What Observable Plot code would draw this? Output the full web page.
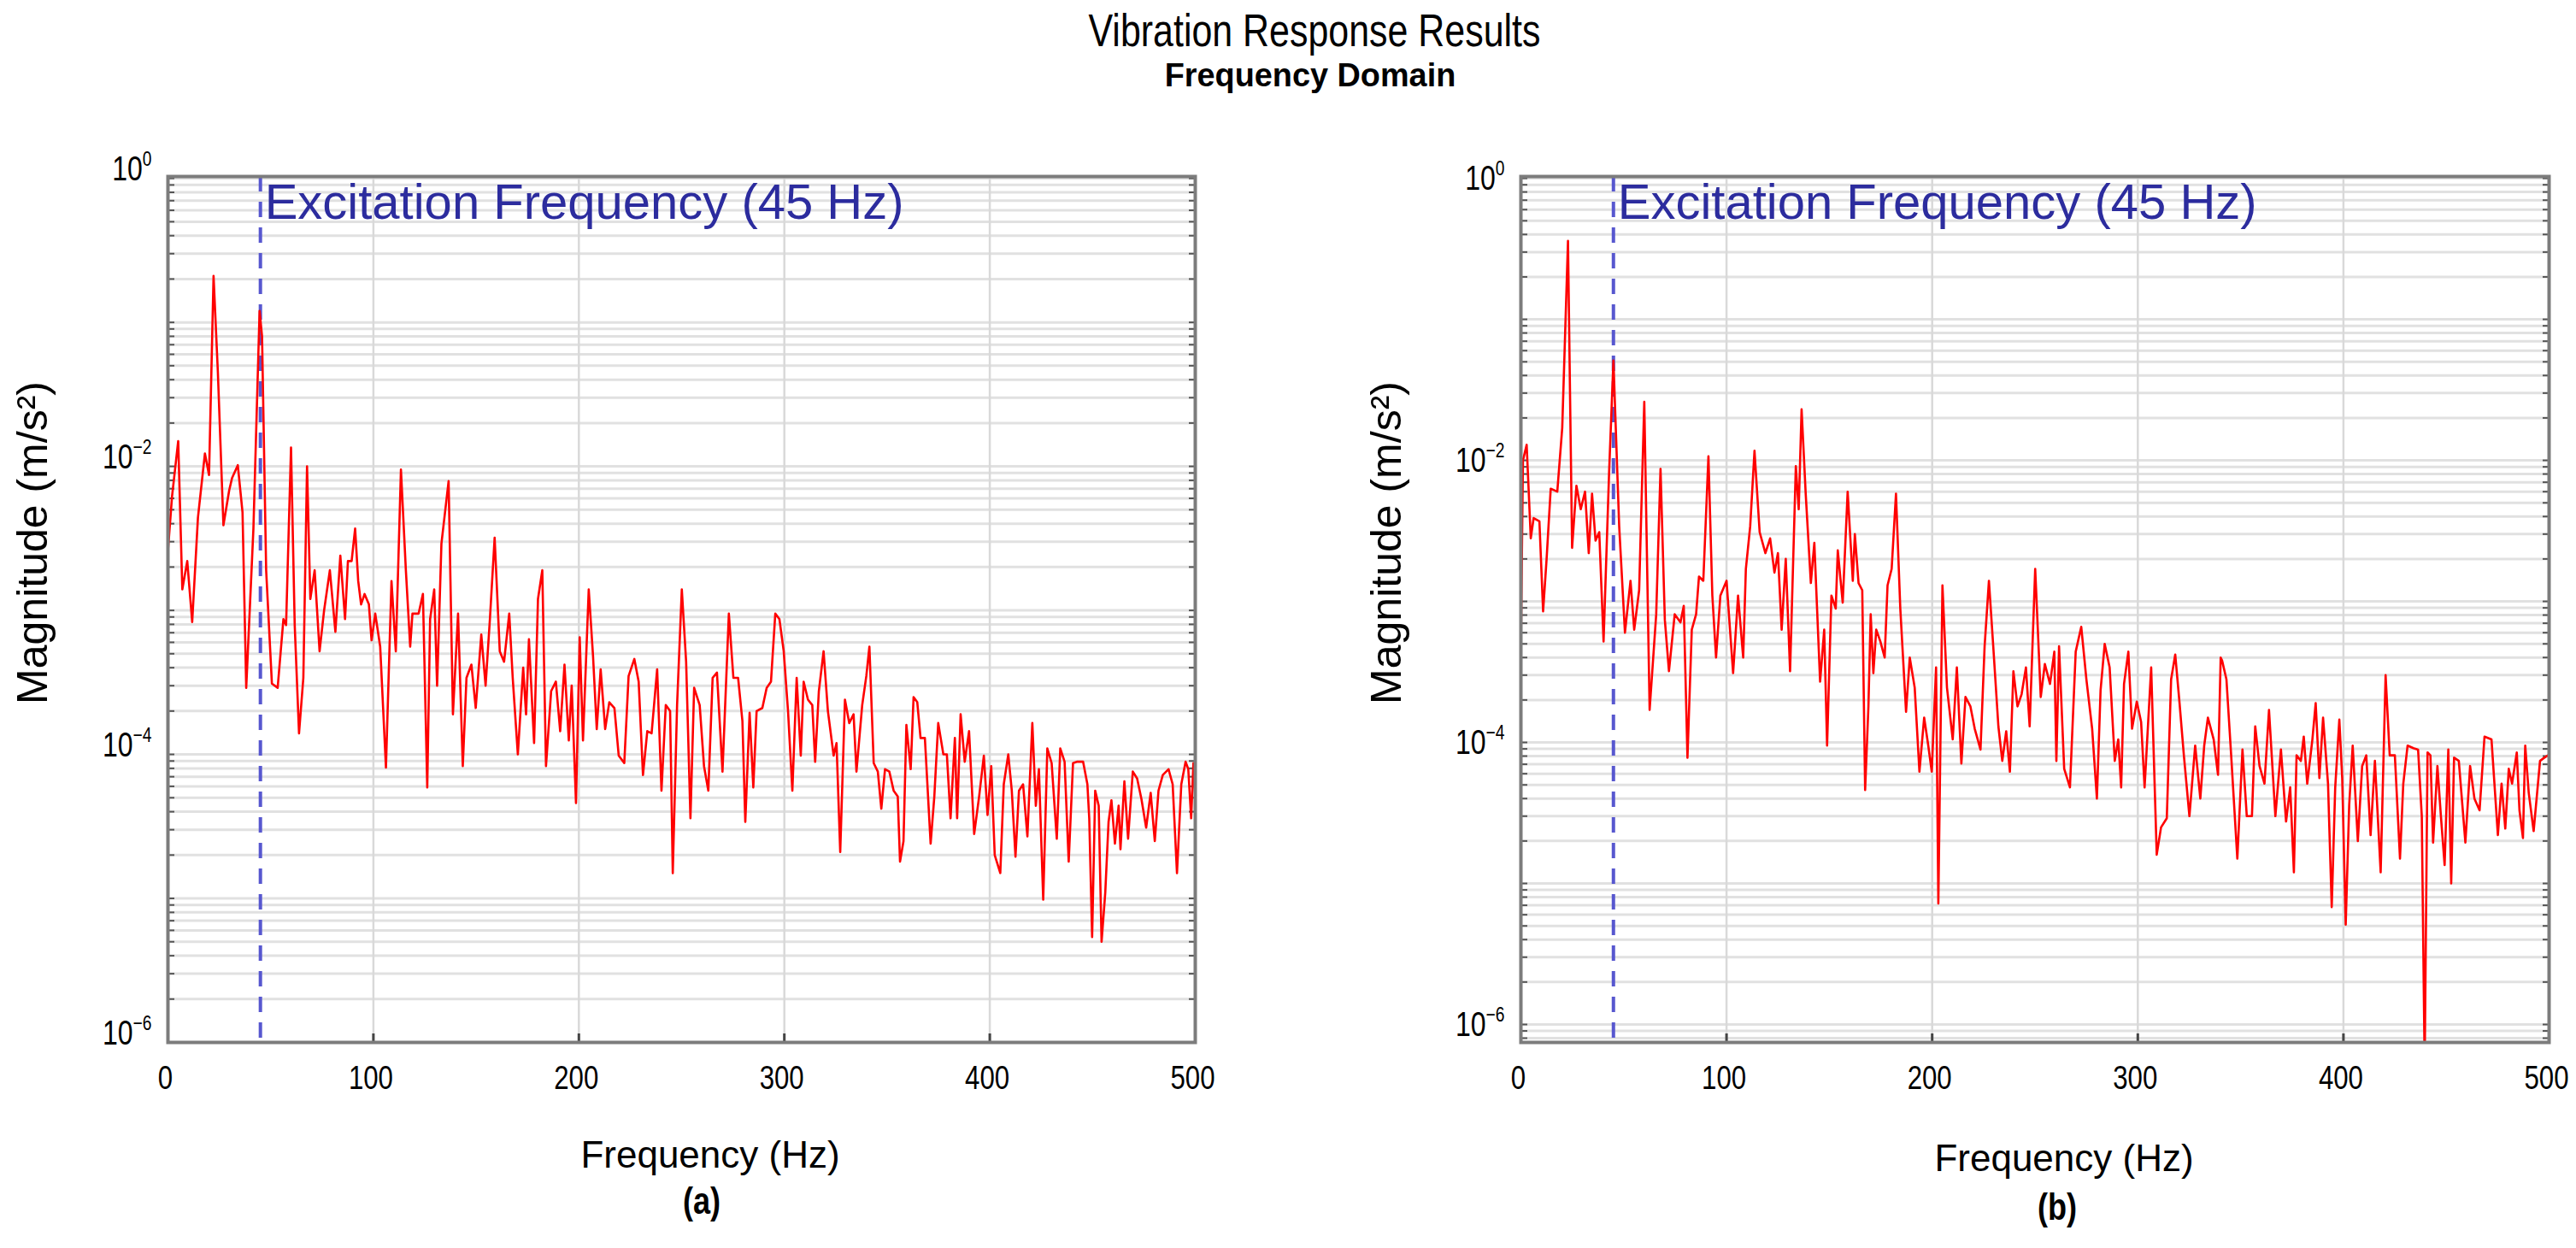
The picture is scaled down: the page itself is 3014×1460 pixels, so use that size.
<!DOCTYPE html>
<html>
<head>
<meta charset="utf-8">
<script src="https://cdn.jsdelivr.net/npm/d3@7"></script>
<script src="https://cdn.jsdelivr.net/npm/@observablehq/plot@0.6"></script>
<style>
  html, body { margin: 0; padding: 0; background: #fff; }
  #page { position: relative; width: 3014px; height: 1460px; overflow: hidden; background: #fff; }
  .abs { position: absolute; white-space: nowrap; color: #000; font-family: "Liberation Sans", Arial, sans-serif; }
  .plot { position: absolute; }
</style>
</head>
<body>
<div id="page"></div>
<script>
// ---------------- data ----------------
const titleText = "Vibration Response Results";
const subtitleText = "Frequency Domain";
const xLabelText = "Frequency (Hz)";
const yLabelText = "Magnitude (m/s²)";
const panelLabels = ["(a)", "(b)"];
const annotationText = "Excitation Frequency (45 Hz)";
const excitationFreq = 45;
const xTickValues = [0, 100, 200, 300, 400, 500];
const xGridValues = [100, 200, 300, 400];
const yTickValues = [1, 1e-2, 1e-4, 1e-6];
const yTickLabels = ["10^0", "10^−2", "10^−4", "10^−6"];

// panel (a): [frequency Hz, magnitude m/s²]
const spectrumA = [[0,2.6e-3],[2,6.2e-3],[5,1.5e-2],[7,1.4e-3],[9.4,2.2e-3],[11.8,8.3e-4],[14.6,4.4e-3],[18,1.23e-2],[20,8.7e-3],[22.2,0.21],[24.3,4.5e-2],[27,3.9e-3],[29.8,6.8e-3],[31.2,8.3e-3],[34,1.02e-2],[36.3,4.8e-3],[38.1,2.9e-4],[41.6,3.7e-3],[44.6,0.12],[45.8,8e-2],[47.8,1.9e-3],[50.6,3.1e-4],[53.4,2.9e-4],[56.2,8.7e-4],[57.5,7.9e-4],[59.9,1.35e-2],[61.7,7.9e-4],[63.8,1.4e-4],[65.9,3.4e-4],[67.7,1.0e-2],[69.3,1.2e-3],[71.4,1.9e-3],[73.8,5.2e-4],[76,1.0e-3],[78.8,1.9e-3],[81.5,7.1e-4],[83.9,2.4e-3],[86.2,8.7e-4],[87.6,2.2e-3],[89.4,2.2e-3],[91.1,3.7e-3],[92.6,1.6e-3],[94,1.1e-3],[95.7,1.3e-3],[97.8,1.1e-3],[99.1,6.2e-4],[100.9,9.5e-4],[103.3,5.6e-4],[106.1,8.1e-5],[108.8,1.6e-3],[110.9,5.2e-4],[113.4,9.5e-3],[115.8,1.9e-3],[117.9,5.6e-4],[119,9.5e-4],[122,9.5e-4],[124.1,1.3e-3],[126.2,5.9e-5],[127.6,8.7e-4],[129.6,1.4e-3],[131,3.0e-4],[133.1,2.9e-3],[136.6,7.9e-3],[138.7,1.9e-4],[141.2,9.5e-4],[143.5,8.3e-5],[145.3,3.4e-4],[147.7,4.2e-4],[149.8,2.1e-4],[152.5,6.8e-4],[154.6,3.0e-4],[156.7,8.7e-4],[159,3.2e-3],[161.5,5.2e-4],[163.6,4.4e-4],[166.1,9.5e-4],[167.8,3.4e-4],[170.3,1.0e-4],[172.9,4.0e-4],[174.3,1.9e-4],[175.7,6.3e-4],[178.2,1.2e-4],[180.1,1.2e-3],[182.2,1.9e-3],[184,8.3e-5],[186.5,2.75e-4],[188.8,3.2e-4],[190.9,1.45e-4],[193,4.2e-4],[195.1,1.25e-4],[196.5,3.0e-4],[198.6,4.6e-5],[200.4,6.5e-4],[202,1.25e-4],[204.8,1.4e-3],[206.9,4.8e-4],[208.7,1.5e-4],[210.6,3.9e-4],[212.8,1.5e-4],[214.8,2.3e-4],[217.3,2.1e-4],[219.4,9.8e-5],[222.1,8.7e-5],[224.2,3.5e-4],[227,4.6e-4],[229.1,3.2e-4],[231.2,7.2e-5],[233.3,1.45e-4],[235.4,1.4e-4],[238.1,3.9e-4],[240.2,5.6e-5],[242.3,2.2e-4],[244.4,2.0e-4],[245.7,1.5e-5],[247.8,2.2e-4],[250.1,1.4e-3],[252.2,4.4e-4],[254.3,3.6e-5],[256.1,2.9e-4],[258.8,2.2e-4],[260.9,8.3e-5],[263,5.6e-5],[265.1,3.4e-4],[267.2,3.7e-4],[269.9,7.6e-5],[273,9.5e-4],[275.2,3.4e-4],[277.5,3.4e-4],[279.6,1.7e-4],[281,3.4e-5],[283.1,1.95e-4],[284.9,5.9e-5],[286.5,2.0e-4],[289.3,2.1e-4],[291.4,2.9e-4],[293.5,3.2e-4],[295.6,9.5e-4],[297.6,8.7e-4],[299.7,5.2e-4],[301.8,2.0e-4],[303.9,5.6e-5],[306,3.4e-4],[308,9.8e-5],[309.4,3.2e-4],[311.5,2.4e-4],[313.6,2.2e-4],[315,8.9e-5],[316.8,2.75e-4],[319.1,5.2e-4],[321.2,2.0e-4],[324,9.8e-5],[325.4,1.2e-4],[327.2,2.1e-5],[329.5,2.4e-4],[331.6,1.65e-4],[333.7,1.9e-4],[335.1,7.6e-5],[337.9,2.2e-4],[339.9,3.5e-4],[341.4,5.6e-4],[343.5,8.7e-5],[345.5,7.6e-5],[347.2,4.2e-5],[349,7.9e-5],[351.1,7.6e-5],[353.2,5.6e-5],[355.2,5.1e-5],[356.3,1.8e-5],[358,2.5e-5],[359.4,1.6e-4],[361.5,7.9e-5],[362.9,2.5e-4],[364.7,2.3e-4],[366.3,1.3e-4],[368.4,1.3e-4],[371.2,2.4e-5],[373,5.1e-5],[374.9,1.65e-4],[377.4,1.0e-4],[379.1,1.0e-4],[380.9,3.6e-5],[383,1.3e-4],[384.1,3.6e-5],[385.8,1.9e-4],[387.8,8.9e-5],[389.9,1.45e-4],[392.4,2.8e-5],[394.8,5.1e-5],[397.1,9.8e-5],[398.9,3.8e-5],[400.7,8.3e-5],[402.4,2.0e-5],[405.1,1.5e-5],[406.8,6.2e-5],[409,1.0e-4],[410.7,5.6e-5],[412.5,1.95e-5],[414.2,5.6e-5],[416.2,6.2e-5],[418.3,2.7e-5],[420.7,1.65e-4],[422.4,4.4e-5],[423.9,7.9e-5],[426,9.8e-6],[428,1.1e-4],[430.1,8.7e-5],[432.6,2.6e-5],[434.3,1.1e-4],[436.4,8.9e-5],[438.4,1.8e-5],[440.5,8.7e-5],[442.6,8.9e-5],[445.4,8.9e-5],[447.5,6.2e-5],[448.4,3.6e-5],[449.8,5.4e-6],[451.3,5.6e-5],[453,4.4e-5],[454.4,5.0e-6],[456.2,1.1e-5],[457.8,3.4e-5],[459.2,4.8e-5],[460.9,2.4e-5],[462.7,4.4e-5],[463.6,2.2e-5],[465.5,6.5e-5],[467.3,2.6e-5],[469.6,7.6e-5],[471.7,6.8e-5],[473.8,4.9e-5],[476.1,3.1e-5],[478.3,5.4e-5],[480.3,2.5e-5],[482.1,5.6e-5],[484.2,7.2e-5],[487,7.9e-5],[489,6.2e-5],[491.1,1.5e-5],[493.2,6.2e-5],[495.3,8.9e-5],[496.6,7.9e-5],[498,3.6e-5],[499.1,8.7e-5],[500,5.0e-5]];

// panel (b): [frequency Hz, magnitude m/s²]
const spectrumB = [[0,5.0e-4],[1,1.0e-2],[2.8,1.29e-2],[4.8,2.8e-3],[6.2,3.9e-3],[9,3.7e-3],[10.8,8.5e-4],[12.5,2.0e-3],[14.5,6.3e-3],[17.7,6.0e-3],[20.1,1.7e-2],[22.9,0.36],[24.9,2.4e-3],[27,6.6e-3],[29.1,4.5e-3],[31.2,6.0e-3],[33,2.2e-3],[34.6,5.8e-3],[36.3,2.7e-3],[38.1,3.1e-3],[40.2,5.2e-4],[42.9,8.3e-3],[45,5.1e-2],[47.8,3.4e-3],[50.6,6.0e-4],[53.3,1.4e-3],[55.1,6.3e-4],[57.5,1.2e-3],[60,2.6e-2],[62.6,1.7e-4],[65.8,8.1e-4],[67.9,8.7e-3],[70,7.4e-4],[72,3.2e-4],[74.8,8.1e-4],[77.6,7.1e-4],[79.2,9.3e-4],[81,7.8e-5],[83.1,6.3e-4],[85.2,8.1e-4],[86.6,1.5e-3],[88.7,1.4e-3],[91.2,1.07e-2],[93.1,1.1e-3],[94.9,4.0e-4],[97,1.1e-3],[100,1.4e-3],[103.2,3.1e-4],[105.6,1.1e-3],[108.1,4.0e-4],[109.4,1.7e-3],[111.5,3.4e-3],[113.6,1.17e-2],[116.1,3.1e-3],[118.9,2.2e-3],[121.2,2.8e-3],[123.3,1.6e-3],[125,2.2e-3],[126.8,6.3e-4],[128.8,2.0e-3],[130.9,3.2e-4],[133.7,9.1e-3],[135.1,4.5e-3],[136.5,2.3e-2],[138.5,5.8e-3],[141,1.35e-3],[142.7,2.6e-3],[145.5,2.7e-4],[147.5,6.3e-4],[148.9,9.5e-5],[151,1.1e-3],[153.1,8.9e-4],[154.1,2.3e-3],[156.5,9.8e-4],[158.9,6.0e-3],[161.4,1.4e-3],[162.4,3.0e-3],[164.2,1.35e-3],[166,1.2e-3],[167.4,4.6e-5],[169,1.8e-4],[170.1,8.1e-4],[171.4,3.1e-4],[172.8,6.3e-4],[174.8,5.2e-4],[176.9,4.0e-4],[178.3,1.3e-3],[180.3,1.7e-3],[182.4,5.8e-3],[184.5,8.9e-4],[187.3,1.65e-4],[189.1,4.0e-4],[191.5,2.45e-4],[193.8,6.2e-5],[196.1,1.5e-4],[198.1,9.5e-5],[199.8,6.2e-5],[201.9,3.4e-4],[203,7.2e-6],[205,1.3e-3],[207.2,2.45e-4],[210,1.05e-4],[212,3.4e-4],[214.2,7.1e-5],[216.2,2.1e-4],[218.6,1.8e-4],[220.7,1.25e-4],[223.5,8.9e-5],[225.5,4.8e-4],[227.6,1.4e-3],[229.7,4.8e-4],[232.2,1.3e-4],[234.1,7.4e-5],[236,1.2e-4],[237.8,6.2e-5],[239.5,3.2e-4],[241.5,1.8e-4],[243.5,2.2e-4],[245.6,3.4e-4],[247.4,1.3e-4],[250.1,1.7e-3],[252.8,2.1e-4],[254.8,3.6e-4],[257.3,2.6e-4],[259.4,4.4e-4],[260.4,7.4e-5],[261.7,4.8e-4],[264.2,6.5e-5],[267,4.8e-5],[269.8,4.4e-4],[272.5,6.6e-4],[275,2.8e-4],[277.8,1.25e-4],[280.1,4.0e-5],[281.9,2.35e-4],[283.9,5.0e-4],[286.3,3.4e-4],[288.8,7.4e-5],[290.5,1.05e-4],[291.9,4.8e-5],[293.3,2.6e-4],[295.4,4.4e-4],[297.2,1.25e-4],[299.5,1.95e-4],[301.6,1.4e-4],[303.3,4.8e-5],[306.5,3.4e-4],[309.2,1.6e-5],[311.3,2.5e-5],[314.1,2.9e-5],[316.2,2.8e-4],[318.2,4.2e-4],[320.3,1.9e-4],[322.4,8.1e-5],[325.1,3.0e-5],[327.9,9.5e-5],[330.4,4.0e-5],[332.3,9.5e-5],[334.1,1.5e-4],[336.9,1.05e-4],[339,5.9e-5],[340.3,4.0e-4],[341,3.8e-4],[343.1,2.8e-4],[345.4,8.1e-5],[348.4,1.5e-5],[350.9,8.9e-5],[353,3.0e-5],[355.5,3.0e-5],[357.1,1.3e-4],[359.2,6.8e-5],[361.6,5.1e-5],[363.8,1.7e-4],[366.9,3.0e-5],[369.6,8.9e-5],[372.1,2.75e-5],[374.1,4.8e-5],[375.9,1.2e-5],[377.2,8.1e-5],[379.3,7.4e-5],[380.7,1.1e-4],[382.4,5.1e-5],[384.9,1.05e-4],[386.5,1.9e-4],[388.3,5.6e-5],[390.1,1.5e-4],[392.5,5.1e-5],[394.3,6.8e-6],[396,4.8e-5],[398,1.45e-4],[399.4,5.6e-5],[401.1,5.1e-6],[402.8,3.6e-5],[404.5,9.5e-5],[407,2.0e-5],[409.1,6.8e-5],[411.1,8.1e-5],[413.2,2.2e-5],[415.3,7.4e-5],[418.1,1.2e-5],[420.5,3.0e-4],[422.5,8.1e-5],[425,8.1e-5],[427.5,1.5e-5],[429.1,5.1e-5],[431.2,9.5e-5],[434,9.1e-5],[436.3,8.9e-5],[438.1,3.0e-5],[439.5,5.0e-7],[440.9,8.5e-5],[442.3,8.1e-5],[443.6,1.95e-5],[445.7,6.8e-5],[447.4,3.0e-5],[449.2,1.35e-5],[451,8.9e-5],[452.4,1.0e-5],[453.8,7.8e-5],[456.1,7.4e-5],[459.3,1.95e-5],[461.6,6.8e-5],[463.7,4.0e-5],[466.2,3.3e-5],[468.6,1.1e-4],[472,1.05e-4],[475.1,2.2e-5],[476.9,5.1e-5],[478.7,2.45e-5],[480.4,6.5e-5],[482,5.1e-5],[484.3,8.5e-5],[485.6,3.3e-5],[487.3,2.1e-5],[488.4,9.5e-5],[490.1,4.4e-5],[492.5,2.35e-5],[495.6,7.4e-5],[497.7,7.8e-5],[499.5,8.1e-5],[500,8.1e-5]];

// ---------------- layout ----------------
const page = document.getElementById("page");
const SANS = '"Liberation Sans", Arial, sans-serif';

function addText(txt, css) {
  const d = document.createElement("div");
  d.className = "abs";
  d.textContent = txt;
  Object.assign(d.style, css);
  page.appendChild(d);
  return d;
}

// title / subtitle
addText(titleText, {left: "1538px", top: "9px", fontSize: "53px", lineHeight: "1", transform: "translateX(-50%) scaleX(0.81)"});
addText(subtitleText, {left: "1533px", top: "68px", fontSize: "39px", lineHeight: "1", fontWeight: "bold", transform: "translateX(-50%) scaleX(0.97)"});

const yTicksGrid = d3.scaleLog().domain([1e-7, 1]).ticks(60).filter(v => v <= 1);

// superscripts for "10^n" labels and a condensed look for tick labels
function styleTickLabels(svg) {
  const ns = "http://www.w3.org/2000/svg";
  svg.querySelectorAll("text").forEach(t => {
    const s = t.textContent;
    const isTick = /^\d+$/.test(s) || s.includes("^");
    if (s.includes("^")) {
      const [base, exp] = s.split("^");
      while (t.firstChild) t.removeChild(t.firstChild);
      const a = document.createElementNS(ns, "tspan");
      a.textContent = base;
      t.appendChild(a);
      const b = document.createElementNS(ns, "tspan");
      b.textContent = exp;
      b.setAttribute("dy", "-17");
      b.setAttribute("font-size", "24");
      t.appendChild(b);
    }
    if (isTick) {
      const tr = t.getAttribute("transform") || "";
      t.setAttribute("transform", `${tr} scale(0.8,1)`);
    }
  });
}

function panel(spectrum, opts) {
  const data = spectrum.map(([f, m]) => ({f, m}));
  const plotH = 1013, plotW = opts.width - opts.marginLeft - opts.marginRight;
  const gridY = yTicksGrid.filter(v => v >= opts.yDomain[0] && v <= opts.yDomain[1]);
  const chart = Plot.plot({
    width: opts.width,
    height: 1180,
    marginLeft: opts.marginLeft,
    marginRight: opts.marginRight,
    marginTop: 56,
    marginBottom: 111,
    style: {background: "transparent", overflow: "visible"},
    x: {domain: [0, 500], axis: null},
    y: {type: "log", domain: opts.yDomain, axis: null},
    marks: [
      Plot.ruleY(gridY, {y: d => d, stroke: "#e1e1e1", strokeWidth: 3}),
      Plot.ruleX(xGridValues, {x: d => d, stroke: "#d9d9d9", strokeWidth: 2.5}),
      Plot.ruleY(gridY, {y: d => d, insetRight: plotW - 8, stroke: "#555", strokeWidth: 2}),
      Plot.ruleY(gridY, {y: d => d, insetLeft: plotW - 7, stroke: "#555", strokeWidth: 2}),
      Plot.ruleX(xGridValues, {x: d => d, insetTop: plotH - 10, stroke: "#444", strokeWidth: 3}),
      Plot.ruleX([excitationFreq], {x: d => d, stroke: "#5757cf", strokeWidth: 4, strokeDasharray: "18,12"}),
      Plot.line(data, {x: "f", y: "m", stroke: "#ff0000", strokeWidth: 2.6, clip: true}),
      Plot.frame({stroke: "#7c7c7c", strokeWidth: 4}),
      Plot.text([excitationFreq], {x: d => d, text: () => annotationText, frameAnchor: "top", textAnchor: "start", lineAnchor: "top", dx: 5, dy: 8, fontSize: 58, fill: "#2c2c9e", fontFamily: SANS}),
      Plot.text(yTickValues, {y: d => d, text: (d, i) => yTickLabels[i], frameAnchor: "left", textAnchor: "end", dx: -19, dy: opts.yLabelDy, fontSize: 40, fill: "#000", fontFamily: SANS}),
      Plot.text(xTickValues, {x: d => d, text: d => String(d), frameAnchor: "bottom", lineAnchor: "top", dy: 27, dx: -3, fontSize: 39, fill: "#000", fontFamily: SANS}),
      Plot.text([yLabelText], {frameAnchor: "left", rotate: -90, textAnchor: "middle", lineAnchor: "middle", dx: opts.yTitleDx, dy: -78, fontSize: 50, fill: "#000", fontFamily: SANS})
    ]
  });
  chart.classList.add("plot");
  chart.style.left = opts.left + "px";
  chart.style.top = "150px";
  page.appendChild(chart);
  styleTickLabels(chart);
}

panel(spectrumA, {left: 0, width: 1440, marginLeft: 196, marginRight: 42, yDomain: [1e-6, 1.03], yLabelDy: -10, yTitleDx: -158});
panel(spectrumB, {left: 1507, width: 1507, marginLeft: 272, marginRight: 32, yDomain: [7.46e-7, 1.03], yLabelDy: 1, yTitleDx: -157});

// axis titles and panel labels
addText(xLabelText, {left: "831px", top: "1329px", fontSize: "44px", lineHeight: "1", transform: "translateX(-50%)"});
addText(xLabelText, {left: "2415px", top: "1333px", fontSize: "44px", lineHeight: "1", transform: "translateX(-50%)"});
addText(panelLabels[0], {left: "821px", top: "1383px", fontSize: "44px", lineHeight: "1", fontWeight: "bold", transform: "translateX(-50%) scaleX(0.82)"});
addText(panelLabels[1], {left: "2407px", top: "1390px", fontSize: "44px", lineHeight: "1", fontWeight: "bold", transform: "translateX(-50%) scaleX(0.82)"});
</script>
</body>
</html>
